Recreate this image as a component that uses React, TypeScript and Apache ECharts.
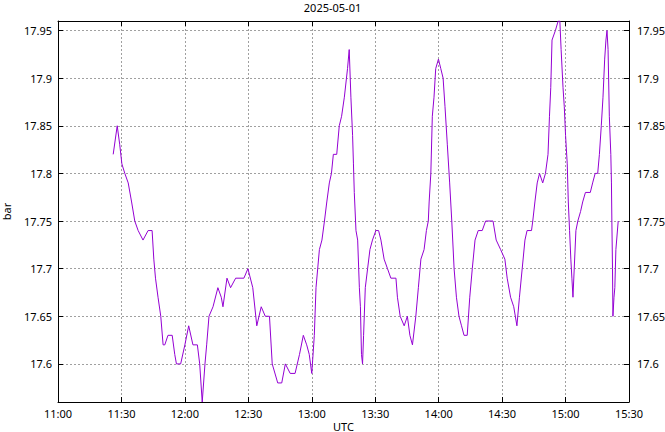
import React, { useEffect, useRef } from "react";
import * as echarts from "echarts";

// minutes after 11:00 UTC
const minutes = [
  26.1, 28.0, 29.2, 30.2, 31.6, 33.2, 34.8, 36.3, 37.9, 40.2, 42.6, 44.5, 45.3, 46.1, 47.3, 48.6, 49.7, 50.5,
  52.0, 54.0, 55.2, 56.0, 58.0, 60.0, 61.8, 63.8, 65.9, 67.0, 68.2, 69.5, 70.3, 71.4, 73.3, 75.6, 77.2, 78.0,
  79.9, 81.6, 84.0, 87.9, 89.8, 92.1, 94.0, 96.1, 98.0, 100.0, 101.3, 103.9, 105.8, 107.5, 109.8, 112.1,
  114.2, 116.0, 117.6, 118.8, 120.0, 121.2, 122.0, 123.6, 124.8, 126.0, 127.1, 128.3, 129.3, 130.2, 131.8,
  133.0, 134.1, 135.4, 136.9, 137.7, 138.5, 139.3, 139.7, 140.1, 140.9, 141.7, 142.5, 143.0, 143.5, 144.0,
  144.5, 145.3, 146.4, 147.5, 148.7, 150.3, 151.6, 152.7, 154.2, 155.8, 157.4, 159.8, 160.5, 161.8, 163.7,
  165.2, 166.4, 167.6, 169.2, 170.4, 171.6, 173.1, 174.2, 175.1, 175.5, 176.3, 177.0, 177.8, 178.6, 179.9,
  181.0, 182.1, 183.0, 184.1, 185.2, 186.2, 187.3, 188.4, 189.6, 190.8, 192.0, 193.5, 194.7, 195.9, 197.2,
  198.7, 200.6, 202.2, 203.8, 205.7, 207.2, 209.3, 211.3, 212.4, 214.0, 215.5, 217.0, 218.2, 219.5, 220.8,
  221.8, 223.9, 224.5, 225.5, 226.6, 227.7, 229.2, 230.5, 231.7, 232.4, 233.0, 233.6, 235.2, 236.5, 237.3,
  237.9, 238.8, 239.4, 240.0, 240.8, 241.3, 241.9, 242.5, 243.0, 243.5, 244.1, 244.9, 245.8, 247.1, 248.1,
  249.4, 251.7, 252.8, 254.0, 255.2, 256.0, 256.9, 257.7, 258.5, 259.1, 259.6, 260.1, 260.7, 261.4, 261.7,
  261.9, 262.2, 262.4, 262.9, 263.3, 263.8, 264.9,
];

const values = [
  17.82, 17.85, 17.83, 17.81, 17.8, 17.79, 17.77, 17.75, 17.74, 17.73, 17.74, 17.74, 17.71, 17.69, 17.67, 17.65, 17.62, 17.62,
  17.63, 17.63, 17.61, 17.6, 17.6, 17.62, 17.64, 17.62, 17.62, 17.6, 17.56, 17.6, 17.62, 17.65, 17.66, 17.68, 17.67, 17.66,
  17.69, 17.68, 17.69, 17.69, 17.7, 17.68, 17.64, 17.66, 17.65, 17.65, 17.6, 17.58, 17.58, 17.6, 17.59, 17.59,
  17.61, 17.63, 17.62, 17.61, 17.59, 17.63, 17.68, 17.72, 17.73, 17.75, 17.77, 17.79, 17.8, 17.82, 17.82,
  17.85, 17.86, 17.88, 17.91, 17.93, 17.88, 17.84, 17.81, 17.78, 17.74, 17.73, 17.68, 17.66, 17.61, 17.6,
  17.63, 17.68, 17.7, 17.72, 17.73, 17.74, 17.74, 17.73, 17.71, 17.7, 17.69, 17.69, 17.67, 17.65, 17.64,
  17.65, 17.63, 17.62, 17.65, 17.68, 17.71, 17.72, 17.74, 17.75, 17.77, 17.8, 17.86, 17.88, 17.91, 17.92,
  17.91, 17.9, 17.87, 17.83, 17.79, 17.75, 17.7, 17.67, 17.65, 17.64, 17.63, 17.63, 17.67, 17.7, 17.73,
  17.74, 17.74, 17.75, 17.75, 17.75, 17.73, 17.72, 17.71, 17.69, 17.67, 17.66, 17.64, 17.67, 17.7, 17.73,
  17.74, 17.74, 17.75, 17.77, 17.79, 17.8, 17.79, 17.8, 17.82, 17.86, 17.89, 17.94, 17.95, 17.96, 17.96,
  17.93, 17.89, 17.87, 17.84, 17.81, 17.77, 17.74, 17.71, 17.69, 17.67, 17.7, 17.74, 17.75, 17.76, 17.77,
  17.78, 17.78, 17.79, 17.8, 17.8, 17.82, 17.85, 17.88, 17.92, 17.94, 17.95, 17.93, 17.86, 17.82, 17.79,
  17.75, 17.7, 17.65, 17.67, 17.68, 17.72, 17.75,
];

const xTickLabels = ["11:00", "11:30", "12:00", "12:30", "13:00", "13:30", "14:00", "14:30", "15:00", "15:30"];
const yTicks = [17.6, 17.65, 17.7, 17.75, 17.8, 17.85, 17.9, 17.95];

const FONT = "'Noto Sans', 'Open Sans', sans-serif";

export default function App() {
  const ref = useRef<HTMLDivElement>(null);

  useEffect(() => {
    if (!ref.current) return;
    const chart = echarts.init(ref.current, null, { renderer: "svg" });
    const data = minutes.map((m, i) => [m, values[i]]);
    const gridLine = { show: true, lineStyle: { color: "#a0a0a0", width: 1, type: [2, 2] as any } };
    const labelStyle = { color: "#000", fontFamily: FONT, fontSize: 11 };
    const yLabelFmt = (v: number) => String(Number(v.toFixed(2)));

    chart.setOption({
      animation: false,
      backgroundColor: "#fff",
      title: {
        text: "2025-05-01",
        left: "center",
        top: 1,
        padding: [0, 0, 0, 0],
        textStyle: { color: "#000", fontFamily: FONT, fontSize: 11, fontWeight: "normal", lineHeight: 13 },
      },
      grid: { left: 58, top: 21, width: 571, height: 381, show: false, containLabel: false, outerBoundsMode: "none" },
      xAxis: [
        {
          type: "value",
          position: "bottom",
          min: 0,
          max: 270,
          interval: 30,
          name: "UTC",
          nameLocation: "middle",
          nameGap: 19,
          nameMoveOverlap: false,
          nameTextStyle: { ...labelStyle, lineHeight: 11, verticalAlign: "top" },
          axisLine: { show: true, onZero: false, lineStyle: { color: "#000", width: 1 } },
          axisTick: { show: true, inside: true, length: 5, lineStyle: { color: "#000" } },
          axisLabel: {
            ...labelStyle,
            margin: 6,
            showMinLabel: true,
            showMaxLabel: true,
            formatter: (v: number) => xTickLabels[Math.round(v / 30)] ?? "",
          },
          splitLine: gridLine,
        },
        {
          type: "value",
          position: "top",
          min: 0,
          max: 270,
          interval: 30,
          axisLine: { show: true, onZero: false, lineStyle: { color: "#000", width: 1 } },
          axisTick: { show: true, inside: true, length: 5, lineStyle: { color: "#000" } },
          axisLabel: { show: false },
          splitLine: { show: false },
        },
      ],
      yAxis: [
        {
          type: "value",
          position: "left",
          min: 17.56,
          max: 17.96,
          name: "bar",
          nameLocation: "middle",
          nameGap: 46,
          nameRotate: 90,
          nameMoveOverlap: false,
          nameTextStyle: { ...labelStyle, lineHeight: 12 },
          axisLine: { show: true, onZero: false, lineStyle: { color: "#000", width: 1 } },
          axisTick: { show: true, inside: true, length: 5, customValues: yTicks, lineStyle: { color: "#000" } },
          axisLabel: { ...labelStyle, margin: 6, customValues: yTicks, formatter: yLabelFmt },
          splitLine: gridLine,
        },
        {
          type: "value",
          position: "right",
          min: 17.56,
          max: 17.96,
          axisLine: { show: true, onZero: false, lineStyle: { color: "#000", width: 1 } },
          axisTick: { show: true, inside: true, length: 5, customValues: yTicks, lineStyle: { color: "#000" } },
          axisLabel: { ...labelStyle, margin: 8, customValues: yTicks, formatter: yLabelFmt },
          splitLine: { show: false },
        },
      ],
      series: [
        {
          type: "line",
          xAxisIndex: 0,
          yAxisIndex: 0,
          data,
          symbol: "none",
          lineStyle: { color: "#9400d3", width: 1 },
          itemStyle: { color: "#9400d3" },
          clip: true,
          z: 5,
        },
      ],
    });
    return () => chart.dispose();
  }, []);

  return (
    <div
      ref={ref}
      style={{ position: "fixed", left: 0, top: 0, width: 665, height: 432, background: "#fff" }}
    />
  );
}
